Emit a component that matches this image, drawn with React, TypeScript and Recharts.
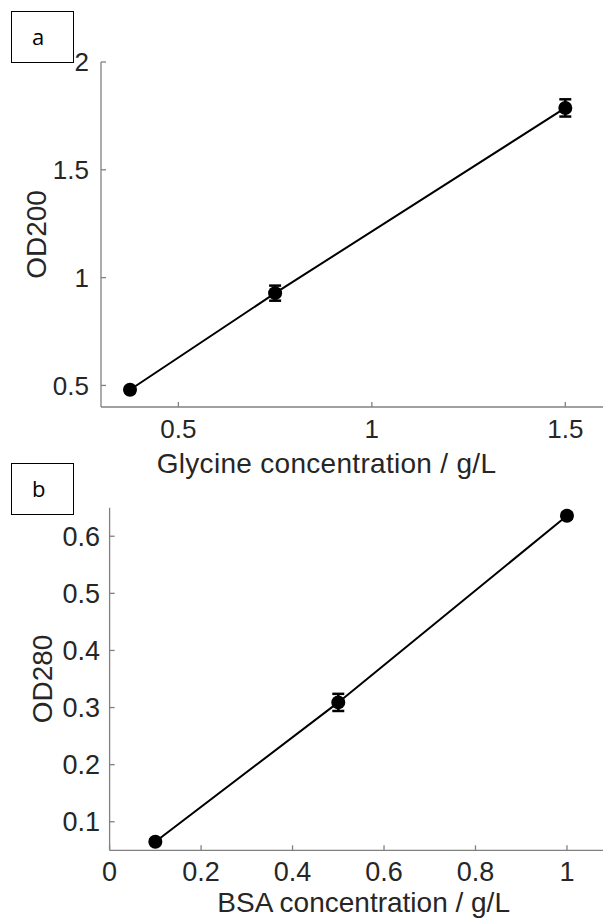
import { ScatterChart, Scatter, XAxis, YAxis, ErrorBar, Label } from 'recharts';

// panel a: glycine standard curve
const glycineConc = [0.375, 0.75, 1.5];
const od200 = [0.48, 0.928, 1.787];
const od200Err = [0.012, 0.035, 0.04];
const glycineXTicks = [0.5, 1, 1.5];
const od200Ticks = [0.5, 1, 1.5, 2];

// panel b: BSA standard curve
const bsaConc = [0.1, 0.5, 1];
const od280 = [0.065, 0.309, 0.636];
const od280Err = [0.004, 0.015, 0.005];
const bsaXTicks = [0, 0.2, 0.4, 0.6, 0.8, 1];
const od280Ticks = [0.1, 0.2, 0.3, 0.4, 0.5, 0.6];

const AXIS = '#808080';
const TEXT = '#262626';
const FONT = '"Liberation Sans", Arial, sans-serif';

const dot = (p: any) => <circle cx={p.cx} cy={p.cy} r={7} fill="#000" />;

interface PanelProps {
  top: number;
  height: number;
  margin: { top: number; right: number };
  yAxisWidth: number;
  xAxisHeight: number;
  data: { x: number; y: number; err: number }[];
  xDomain: [number, number];
  yDomain: [number, number];
  xTicks: number[];
  yTicks: number[];
  xTitle: string;
  yTitle: string;
  tickFont: number;
  xTickMargin: number;
  yTickMargin: number;
  xTitleOffset: number;
  xTitleDx: number;
  xTitleSpacing: number;
  yTitleOffset: number;
}

function Panel(p: PanelProps) {
  const tickStyle = { fill: TEXT, fontSize: p.tickFont, fontFamily: FONT };
  return (
    <div style={{ position: 'absolute', left: 0, top: p.top }}>
      <ScatterChart
        width={640}
        height={p.height}
        margin={{ top: p.margin.top, right: p.margin.right, left: 0, bottom: 0 }}
      >
        <XAxis
          xAxisId="b"
          type="number"
          dataKey="x"
          domain={p.xDomain}
          ticks={p.xTicks}
          allowDataOverflow
          height={p.xAxisHeight}
          tickSize={-5}
          tickMargin={p.xTickMargin}
          tick={tickStyle}
          stroke={AXIS}
          strokeWidth={1.3}
        >
          <Label
            value={p.xTitle}
            position="insideBottom"
            offset={p.xTitleOffset}
            dx={p.xTitleDx}
            style={{ fill: TEXT, fontSize: 28, fontFamily: FONT, letterSpacing: p.xTitleSpacing }}
          />
        </XAxis>
        <XAxis
          xAxisId="t"
          orientation="top"
          type="number"
          dataKey="x"
          domain={p.xDomain}
          ticks={p.xTicks}
          allowDataOverflow
          height={0}
          tickSize={-5}
          tick={false}
          stroke={AXIS}
          strokeWidth={1.3}
        />
        <YAxis
          yAxisId="l"
          type="number"
          dataKey="y"
          domain={p.yDomain}
          ticks={p.yTicks}
          allowDataOverflow
          width={p.yAxisWidth}
          tickSize={-5}
          tickMargin={p.yTickMargin}
          tick={tickStyle}
          stroke={AXIS}
          strokeWidth={1.3}
        >
          <Label
            value={p.yTitle}
            angle={-90}
            position="insideLeft"
            offset={p.yTitleOffset}
            style={{ fill: TEXT, fontSize: 28, fontFamily: FONT, textAnchor: 'middle' }}
          />
        </YAxis>
        <YAxis
          yAxisId="r"
          orientation="right"
          type="number"
          dataKey="y"
          domain={p.yDomain}
          ticks={p.yTicks}
          allowDataOverflow
          width={0}
          tickSize={-5}
          tick={false}
          stroke={AXIS}
          strokeWidth={1.3}
        />
        <Scatter
          data={p.data}
          xAxisId="b"
          yAxisId="l"
          fill="#000"
          line={{ stroke: '#000', strokeWidth: 2 }}
          shape={dot}
          isAnimationActive={false}
        >
          <ErrorBar dataKey="err" direction="y" width={6} stroke="#000" strokeWidth={2.5} />
        </Scatter>
      </ScatterChart>
    </div>
  );
}

const panelLabel = (text: string, top: number) => (
  <div
    style={{
      position: 'absolute',
      left: 11,
      top,
      width: 63,
      height: 52,
      border: '1px solid #000',
      background: '#fff',
      fontFamily: '"Open Sans", sans-serif',
      fontSize: 22,
      lineHeight: '48px',
      paddingLeft: 20,
      boxSizing: 'border-box',
      color: '#000',
    }}
  >
    {text}
  </div>
);

export default function App() {
  const dataA = glycineConc.map((x, i) => ({ x, y: od200[i], err: od200Err[i] }));
  const dataB = bsaConc.map((x, i) => ({ x, y: od280[i], err: od280Err[i] }));
  return (
    <div
      style={{
        position: 'absolute',
        left: 0,
        top: 0,
        width: 603,
        height: 921,
        overflow: 'hidden',
        background: '#fff',
      }}
    >
      <Panel
        top={0}
        height={480}
        margin={{ top: 62, right: 36 }}
        yAxisWidth={101}
        xAxisHeight={73}
        data={dataA}
        xDomain={[0.3, 1.6]}
        yDomain={[0.4, 2]}
        xTicks={glycineXTicks}
        yTicks={od200Ticks}
        xTitle="Glycine concentration / g/L"
        yTitle="OD200"
        tickFont={26}
        xTickMargin={18}
        yTickMargin={17}
        xTitleOffset={7}
        xTitleDx={-26}
        xTitleSpacing={0.3}
        yTitleOffset={36.5}
      />
      <Panel
        top={480}
        height={441}
        margin={{ top: 27.7, right: 27.3 }}
        yAxisWidth={109.6}
        xAxisHeight={70.7}
        data={dataB}
        xDomain={[0, 1.1]}
        yDomain={[0.05, 0.65]}
        xTicks={bsaXTicks}
        yTicks={od280Ticks}
        xTitle="BSA concentration / g/L"
        yTitle="OD280"
        tickFont={27}
        xTickMargin={17}
        yTickMargin={14.6}
        xTitleOffset={9}
        xTitleDx={2.5}
        xTitleSpacing={0}
        yTitleOffset={41.7}
      />
      {panelLabel('a', 11)}
      {panelLabel('b', 463)}
    </div>
  );
}
